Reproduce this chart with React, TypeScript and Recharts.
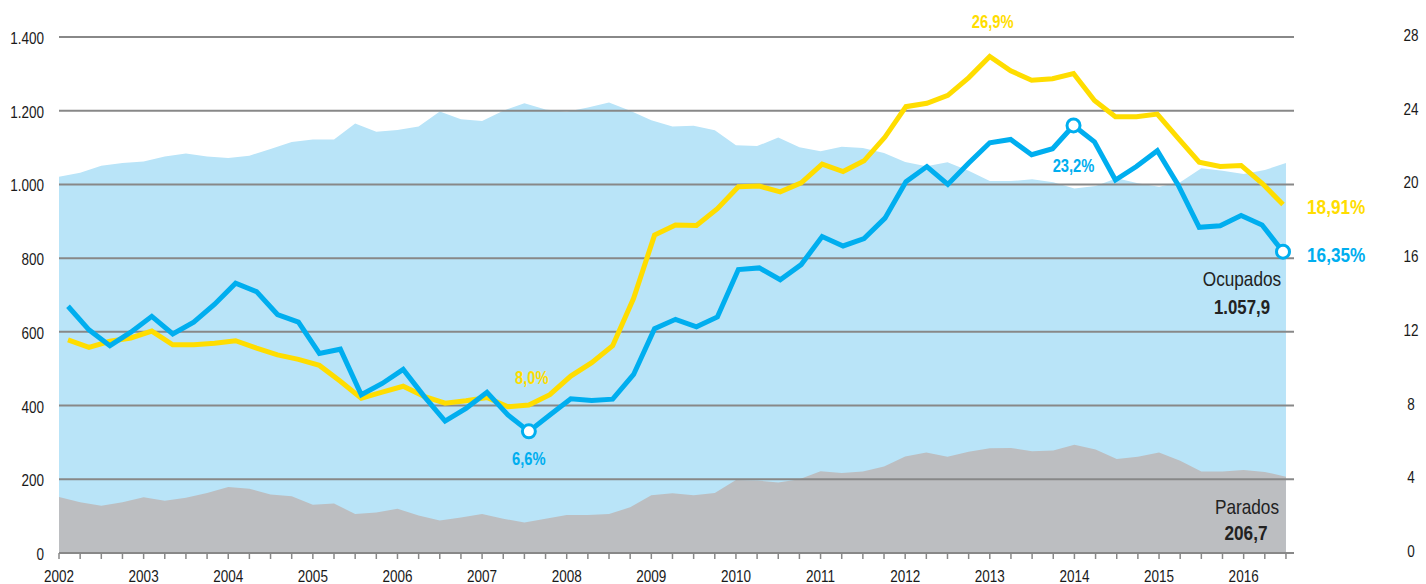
import React from "react";
import {
  Area,
  ComposedChart,
  Line,
  ReferenceLine,
  XAxis,
  YAxis,
} from "recharts";

// trimestres 2002T1 .. 2016T3
const firstYear = 2002;

// miles de personas (eje izquierdo)
const ocupados = [
  1021, 1032, 1051, 1058, 1062, 1076, 1084, 1076, 1072, 1078, 1096, 1115,
  1122, 1122, 1165, 1143, 1148, 1157, 1198, 1177, 1172, 1200, 1220, 1203,
  1197, 1209, 1222, 1200, 1174, 1157, 1159, 1147, 1106, 1104, 1127, 1101,
  1090, 1102, 1099, 1085, 1061, 1049, 1060, 1037, 1009, 1009, 1014, 1006,
  989, 996, 1017, 1003, 994, 1006, 1044, 1037, 1028, 1039, 1057.9,
];

const parados = [
  152, 138, 128, 138, 151, 142, 150, 163, 179, 174, 159, 154, 131, 134, 106,
  110, 120, 102, 88, 96, 106, 93, 83, 93, 103, 103, 106, 124, 157, 162, 157,
  163, 198, 197, 191, 200, 222, 217, 221, 235, 262, 273, 261, 275, 284, 285,
  276, 278, 294, 281, 255, 261, 273, 250, 221, 221, 225, 220, 206.7,
];

// tasas de paro, % (eje derecho)
const tasaEspana = [
  11.56, 11.16, 11.49, 11.67, 12.04, 11.3, 11.3, 11.38, 11.52, 11.12, 10.75,
  10.51, 10.18, 9.32, 8.4, 8.73, 9.05, 8.5, 8.13, 8.26, 8.44, 7.94, 8.03, 8.59,
  9.6, 10.33, 11.25, 13.82, 17.25, 17.8, 17.77, 18.68, 19.87, 19.91, 19.6,
  20.09, 21.1, 20.7, 21.28, 22.57, 24.22, 24.4, 24.83, 25.8, 26.94, 26.17,
  25.65, 25.74, 26.02, 24.55, 23.67, 23.67, 23.82, 22.5, 21.21, 20.97, 21.03,
  20.06, 18.91,
];

const tasaRegion = [
  13.39, 12.11, 11.25, 11.98, 12.84, 11.89, 12.53, 13.5, 14.64, 14.18, 12.94,
  12.53, 10.83, 11.06, 8.59, 9.2, 9.96, 8.5, 7.16, 7.85, 8.72, 7.49, 6.6, 7.49,
  8.37, 8.28, 8.35, 9.69, 12.17, 12.68, 12.27, 12.81, 15.38, 15.47, 14.83,
  15.65, 17.17, 16.66, 17.06, 18.17, 20.15, 20.97, 20.0, 21.16, 22.26, 22.44,
  21.61, 21.94, 23.2, 22.31, 20.24, 20.97, 21.83, 19.96, 17.67, 17.76, 18.31,
  17.8, 16.35,
];

const leftTicks = [0, 200, 400, 600, 800, 1000, 1200, 1400];
const rightTicks = [0, 4, 8, 12, 16, 20, 24, 28];

// puntos destacados
const notasEspana = [22, 44];
const notasRegion = [22, 48];

const YELLOW = "#FFDD00";
const BLUE = "#00AEEF";
const AREA_BLUE = "#B9E4F8";
const AREA_GRAY = "#BCBEC1";
const GRID = "#888888";
const INK = "#1a1a1a";
const FONT = "'Liberation Sans', Arial, sans-serif";
const NARROW = 0.82; // imita Arial Narrow

const data = ocupados.map((v, i) => ({
  i,
  ocupados: v,
  parados: parados[i],
  espana: tasaEspana[i],
  region: tasaRegion[i],
}));
const lastIdx = data.length - 1;
const quarterTicks = data.map((d) => d.i);

const dots = (s: string) => s.replace(/\B(?=(\d{3})+(?!\d))/g, ".");
const miles = (v: number) => {
  const [ent, dec] = v.toFixed(1).split(".");
  return `${dots(ent)},${dec}`;
};
const pct = (v: number, digits: number) =>
  `${v.toFixed(digits).replace(".", ",")}%`;

type NTProps = {
  x: number;
  y: number;
  size: number;
  fill: string;
  anchor?: "start" | "middle" | "end";
  bold?: boolean;
  children: React.ReactNode;
};

// texto estrecho: Liberation Sans comprimido en horizontal
const NarrowText = ({ x, y, size, fill, anchor = "start", bold, children }: NTProps) => (
  <g transform={`translate(${x},${y}) scale(${NARROW},1)`}>
    <text
      x={0}
      y={0}
      fontSize={size}
      fontWeight={bold ? 700 : 400}
      fill={fill}
      textAnchor={anchor}
      dominantBaseline="central"
      fontFamily={FONT}
    >
      {children}
    </text>
  </g>
);

const XTick = (p: any) => {
  const v = p.payload.value as number;
  if (v % 4 !== 0) return <g />;
  return (
    <NarrowText x={p.x} y={p.y + 5} size={16.5} fill={INK} anchor="middle">
      {String(firstYear + v / 4)}
    </NarrowText>
  );
};

const LeftTick = (p: any) => (
  <NarrowText x={p.x} y={p.y + 1} size={16.5} fill={INK} anchor="end">
    {dots(String(p.payload.value))}
  </NarrowText>
);

const RightTick = (p: any) => (
  <NarrowText x={p.x} y={p.y - 2} size={16.5} fill={INK} anchor="middle">
    {String(p.payload.value)}
  </NarrowText>
);

const espanaLabel = (p: any) => {
  const { x, y, index, value } = p;
  if (index === lastIdx)
    return (
      <NarrowText key="e-end" x={x + 24} y={y + 2} size={21} fill={YELLOW} bold>
        {pct(value, 2)}
      </NarrowText>
    );
  if (notasEspana.includes(index))
    return (
      <NarrowText
        key={`e-${index}`}
        x={x + 3}
        y={y - (index === 44 ? 35 : 28)}
        size={18}
        fill={YELLOW}
        anchor="middle"
        bold
      >
        {pct(value, 1)}
      </NarrowText>
    );
  return null;
};

const regionLabel = (p: any) => {
  const { x, y, index, value } = p;
  if (index === lastIdx)
    return (
      <NarrowText key="r-end" x={x + 24} y={y + 3} size={21} fill={BLUE} bold>
        {pct(value, 2)}
      </NarrowText>
    );
  if (notasRegion.includes(index))
    return (
      <NarrowText
        key={`r-${index}`}
        x={x}
        y={y + (index === 48 ? 40 : 27)}
        size={18}
        fill={BLUE}
        anchor="middle"
        bold
      >
        {pct(value, 1)}
      </NarrowText>
    );
  return null;
};

const regionDot = (p: any) => {
  const { cx, cy, index } = p;
  if (index !== lastIdx && !notasRegion.includes(index)) return null;
  return (
    <circle
      key={`d-${index}`}
      cx={cx}
      cy={cy}
      r={6.5}
      fill="#fff"
      stroke={BLUE}
      strokeWidth={3}
    />
  );
};

const ocupadosLabel = (p: any) => {
  const { x, y, index, value } = p;
  if (index !== lastIdx) return null;
  return (
    <g key="ocu">
      <NarrowText x={x - 44} y={y + 116} size={21} fill="#222" anchor="middle">
        Ocupados
      </NarrowText>
      <NarrowText x={x - 44} y={y + 144} size={20.5} fill="#222" anchor="middle" bold>
        {miles(value)}
      </NarrowText>
    </g>
  );
};

const paradosLabel = (p: any) => {
  const { x, y, index, value } = p;
  if (index !== lastIdx) return null;
  return (
    <g key="par">
      <NarrowText x={x - 39} y={y + 30} size={21} fill="#222" anchor="middle">
        Parados
      </NarrowText>
      <NarrowText x={x - 40} y={y + 56} size={21} fill="#222" anchor="middle" bold>
        {miles(value)}
      </NarrowText>
    </g>
  );
};

export default function App() {
  return (
    <div style={{ position: "absolute", left: 0, top: 0, fontFamily: FONT }}>
      <ComposedChart
        width={1426}
        height={584}
        data={data}
        margin={{ top: 37, right: 0, bottom: 1, left: 0 }}
      >
        <XAxis
          xAxisId="area"
          dataKey="i"
          type="number"
          domain={[0, 58.38]}
          allowDataOverflow
          ticks={quarterTicks}
          interval={0}
          height={30}
          tickSize={6}
          tickMargin={12}
          axisLine={{ stroke: GRID, strokeWidth: 2 }}
          tickLine={{ stroke: GRID, strokeWidth: 1.5 }}
          tick={<XTick />}
        />
        <XAxis
          xAxisId="line"
          dataKey="i"
          type="number"
          domain={[-0.43, 58.525]}
          allowDataOverflow
          hide
        />
        <YAxis
          yAxisId="left"
          domain={[0, 1400]}
          ticks={leftTicks}
          interval={0}
          width={59}
          axisLine={false}
          tickLine={false}
          tickSize={0}
          tickMargin={15}
          tick={<LeftTick />}
        />
        <YAxis
          yAxisId="right"
          orientation="right"
          domain={[0, 28]}
          ticks={rightTicks}
          interval={0}
          width={132}
          axisLine={false}
          tickLine={false}
          tickSize={0}
          tickMargin={117}
          tick={<RightTick />}
        />
        <Area
          xAxisId="area"
          yAxisId="left"
          dataKey="ocupados"
          type="linear"
          stroke="none"
          fill={AREA_BLUE}
          fillOpacity={1}
          isAnimationActive={false}
          label={ocupadosLabel}
        />
        <Area
          xAxisId="area"
          yAxisId="left"
          dataKey="parados"
          type="linear"
          stroke="none"
          fill={AREA_GRAY}
          fillOpacity={1}
          isAnimationActive={false}
          label={paradosLabel}
        />
        {leftTicks.map((v) => (
          <ReferenceLine
            key={v}
            xAxisId="area"
            yAxisId="left"
            y={v}
            stroke={GRID}
            strokeWidth={2}
          />
        ))}
        <Line
          xAxisId="line"
          yAxisId="right"
          dataKey="espana"
          type="linear"
          stroke={YELLOW}
          strokeWidth={5}
          dot={false}
          activeDot={false}
          isAnimationActive={false}
          label={espanaLabel}
        />
        <Line
          xAxisId="line"
          yAxisId="right"
          dataKey="region"
          type="linear"
          stroke={BLUE}
          strokeWidth={5}
          dot={regionDot}
          activeDot={false}
          isAnimationActive={false}
          label={regionLabel}
        />
      </ComposedChart>
    </div>
  );
}
